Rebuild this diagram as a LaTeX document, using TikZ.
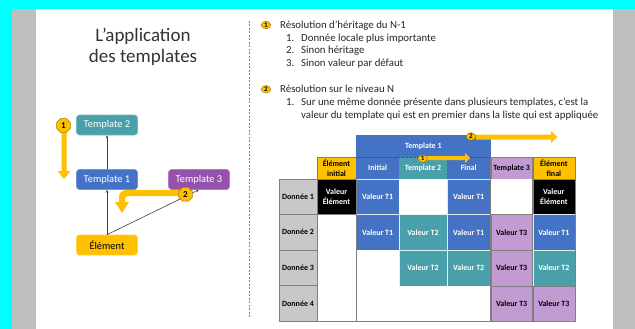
\documentclass[tikz,border=0pt]{standalone}
\usepackage{fontspec}
\setmainfont{Carlito}
\usetikzlibrary{shapes.geometric,arrows.meta}
\definecolor{cyanbg}{HTML}{00FFFF}
\definecolor{sidegray}{HTML}{BFBFBF}
\definecolor{tblue}{HTML}{4472C4}
\definecolor{tteal}{HTML}{4AA0AA}
\definecolor{tpurple}{HTML}{9452AB}
\definecolor{lpurple}{HTML}{C39BD3}
\definecolor{gold}{HTML}{FFC000}
\definecolor{lgray}{HTML}{C8C8C8}
\definecolor{gridgray}{HTML}{7F7F7F}
\newcommand\tcell[6]{%
  \pgfmathsetmacro\cellw{#4-#2}\pgfmathsetmacro\cellh{#5-#3}%
  \node[#6, minimum width=\cellw pt, minimum height=\cellh pt, anchor=north west] (#1) at (#2,#3)}
\begin{document}
\begin{tikzpicture}[x=1pt,y=-1pt,
  lnode/.style={rounded corners=3pt, minimum width=61pt, minimum height=20pt, inner sep=0pt,
    font=\fontsize{10.4}{12}\selectfont, text=white, fill=#1, draw=#1!75!white, line width=0.6pt},
  conn/.style={draw=black!75, line width=0.6pt, -{Stealth[length=3pt,width=2.6pt]}},
  yarrow/.style={fill=gold},
  obadge/.style={regular polygon, regular polygon sides=8, minimum size=15pt, inner sep=0pt,
    fill=gold, draw=gold!65!black, line width=0.5pt, font=\fontsize{9}{9}\selectfont\bfseries},
  sbadge/.style={ellipse, minimum width=9.5pt, minimum height=7.5pt, inner sep=0pt,
    fill=gold, draw=gold!65!black, line width=0.5pt, font=\fontsize{7}{7}\selectfont\bfseries},
  rtext/.style={anchor=base west, inner sep=0pt, font=\fontsize{10.8}{13}\selectfont, text=black!85},
  tc/.style={inner sep=0pt, outer sep=0pt, align=center, font=\fontsize{8}{9.5}\selectfont\bfseries},
  cb/.style={tc, fill=tblue, draw=white!85!tblue, line width=0.4pt, text=white},
  ct/.style={tc, fill=tteal, draw=white!85!tteal, line width=0.4pt, text=white},
  cp/.style={tc, fill=lpurple, draw=gridgray, line width=0.4pt, text=black},
  ck/.style={tc, fill=black, draw=gridgray, line width=0.4pt, text=white},
  cy/.style={tc, fill=gold, draw=gridgray, line width=0.4pt, text=black},
  cw/.style={tc, fill=white},
  cg/.style={tc, fill=lgray, draw=gridgray, line width=0.6pt, text=black},
  grid/.style={draw=gridgray, line width=0.6pt}
]
\useasboundingbox (0,0) rectangle (635,329);
% background frame
\fill[cyanbg] (0,0) rectangle (635,329);
\fill[white] (12,9) rectangle (635,329);
\fill[sidegray] (12,9) rectangle (36,329);
\fill[sidegray] (613,9) rectangle (635,329);

% title
\node[anchor=base, inner sep=0pt, font=\fontsize{19}{21}\selectfont, text=black!80] (title1) at (143,41.7) {L’application};
\node[anchor=base, inner sep=0pt, font=\fontsize{19}{21}\selectfont, text=black!80] (title2) at (143,62.7) {des templates};

% separator
\draw[gridgray, line width=0.8pt, dash pattern=on 2pt off 1.5pt] (249,21) -- (249,318);

% left diagram
\node[lnode=tteal] (t2) at (107,125) {Template 2};
\node[lnode=tblue] (t1) at (107,179.5) {Template 1};
\node[lnode=tpurple] (t3) at (199,179.5) {Template 3};
\node[lnode=gold, text=black] (el) at (107,245) {Élément};
\draw[conn] (el.north) -- (t1.south);
\draw[conn] (t1.north) -- (t2.south);
\draw[conn] (el.north) -- (t3.south);
% yellow arrow 1
\fill[yarrow] (61.5,128) -- (66.5,128) -- (66.5,171) -- (70.5,171) -- (64,179) -- (57.5,171) -- (61.5,171) -- cycle;
% yellow arrow 2
\fill[yarrow] (186,190) -- (128,190) .. controls (122,190) and (119,192) .. (119,198) -- (119,202) -- (115,202)
  -- (122,213) -- (129,202) -- (125,202) -- (125,199) .. controls (125,197) and (126,196) .. (128,196) -- (186,196) -- cycle;
\node[obadge] (b1) at (63.5,125.5) {1};
\node[obadge] (b2) at (185.5,194.3) {2};

% right text
\node[sbadge] (rb1) at (266,25) {1};
\node[rtext] (r1) at (280,28.6) {Résolution d’héritage du N-1};
\node[rtext] (n11) at (286,41.2) {1.};
\node[rtext] (r11) at (301,41.2) {Donnée locale plus importante};
\node[rtext] (n12) at (286,54) {2.};
\node[rtext] (r12) at (301,54) {Sinon héritage};
\node[rtext] (n13) at (286,66.8) {3.};
\node[rtext] (r13) at (301,66.8) {Sinon valeur par défaut};
\node[sbadge] (rb2) at (266,89.3) {2};
\node[rtext] (r2) at (280,92.9) {Résolution sur le niveau N};
\node[rtext] (n21) at (286,105.5) {1.};
\node[rtext] (r21) at (301,105.5) {Sur une même donnée présente dans plusieurs templates, c’est la};
\node[rtext] (r22) at (301,118.2) {valeur du template qui est en premier dans la liste qui est appliquée};

% table header
\tcell{hT1}{356}{135}{490.7}{157}{cb, draw=none}{Template 1};
\tcell{hEI}{317}{157}{356}{179.3}{cy}{Élément\\initial};
\tcell{hIn}{356}{157}{399.3}{179.3}{cb, draw=none}{Initial};
\tcell{hT2}{399.3}{157}{446.7}{179.3}{ct, draw=none}{Template 2};
\tcell{hFi}{446.7}{157}{490.7}{179.3}{cb, draw=none}{Final};
\tcell{hT3}{490.7}{157}{532.7}{179.3}{cp}{Template 3};
\tcell{hEF}{532.7}{157}{575}{179.3}{cy}{Élément\\final};
\draw[black!70, line width=0.5pt, dash pattern=on 0.8pt off 0.8pt] (hIn.north west) -- (hFi.north east);

% row 1
\tcell{g1}{279}{179.3}{317}{214.5}{cg}{Donnée 1};
\tcell{c11}{317}{179.3}{356}{214.5}{ck}{Valeur\\Élément};
\tcell{c12}{356}{179.3}{399.3}{214.5}{cb}{Valeur T1};
\tcell{c13}{399.3}{179.3}{446.7}{214.5}{cw}{};
\tcell{c14}{446.7}{179.3}{490.7}{214.5}{cb}{Valeur T1};
\tcell{c15}{490.7}{179.3}{532.7}{214.5}{cw}{};
\tcell{c16}{532.7}{179.3}{575}{214.5}{ck}{Valeur\\Élément};
% row 2
\tcell{g2}{279}{214.5}{317}{250}{cg}{Donnée 2};
\tcell{c21}{317}{214.5}{356}{250}{cw}{};
\tcell{c22}{356}{214.5}{399.3}{250}{cb}{Valeur T1};
\tcell{c23}{399.3}{214.5}{446.7}{250}{ct}{Valeur T2};
\tcell{c24}{446.7}{214.5}{490.7}{250}{cb}{Valeur T1};
\tcell{c25}{490.7}{214.5}{532.7}{250}{cp}{Valeur T3};
\tcell{c26}{532.7}{214.5}{575}{250}{cb}{Valeur T1};
% row 3
\tcell{g3}{279}{250}{317}{285.7}{cg}{Donnée 3};
\tcell{c31}{317}{250}{356}{285.7}{cw}{};
\tcell{c32}{356}{250}{399.3}{285.7}{cw}{};
\tcell{c33}{399.3}{250}{446.7}{285.7}{ct}{Valeur T2};
\tcell{c34}{446.7}{250}{490.7}{285.7}{ct}{Valeur T2};
\tcell{c35}{490.7}{250}{532.7}{285.7}{cp}{Valeur T3};
\tcell{c36}{532.7}{250}{575}{285.7}{ct}{Valeur T2};
% row 4
\tcell{g4}{279}{285.7}{317}{321}{cg}{Donnée 4};
\tcell{c41}{317}{285.7}{356}{321}{cw}{};
\tcell{c42}{356}{285.7}{399.3}{321}{cw}{};
\tcell{c43}{399.3}{285.7}{446.7}{321}{cw}{};
\tcell{c44}{446.7}{285.7}{490.7}{321}{cw}{};
\tcell{c45}{490.7}{285.7}{532.7}{321}{cp}{Valeur T3};
\tcell{c46}{532.7}{285.7}{575}{321}{cp}{Valeur T3};

% grid lines
\draw[grid] (hEI.north west) -- (c41.south west);
\draw[grid] (c11.north east) -- (c41.south east);
\draw[grid] (hT3.north west) -- (c45.south west);
\draw[grid] (hT3.north east) -- (c45.south east);
\draw[grid] (hEF.north east) -- (c46.south east);
\draw[grid] (g4.south west) -- (c46.south east);

% table arrows
\fill[yarrow] (424,156) -- (465,156) -- (465,153) -- (470,158) -- (465,163) -- (465,160) -- (424,160) -- cycle;
\node[sbadge] (tb1) at (422.7,158.5) {1};
\fill[yarrow] (476,134.5) -- (551,134.5) -- (551,131) -- (557.3,137) -- (551,143) -- (551,139.5) -- (476,139.5) -- cycle;
\node[sbadge] (tb2) at (471,136.5) {2};
\end{tikzpicture}
\end{document}
